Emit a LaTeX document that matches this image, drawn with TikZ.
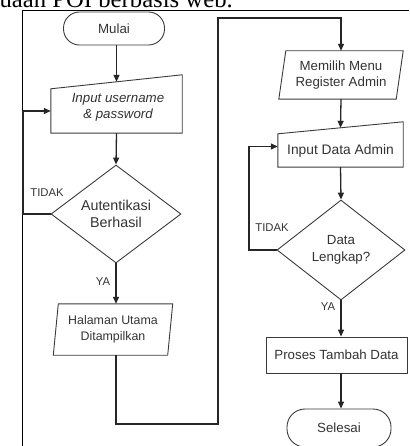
\documentclass[tikz,border=0pt]{standalone}
\usepackage{fontspec}
\setmainfont{Liberation Sans}
\newfontfamily\captionserif{Liberation Serif}
\usetikzlibrary{arrows.meta,shapes.geometric,calc}
\definecolor{ln}{HTML}{3A3A3A}
\definecolor{tx}{HTML}{333333}
\tikzset{
  outl/.style={draw=ln, line width=0.9pt},
  txt/.style={text=tx, font=\fontsize{13.3}{16.5}\selectfont, align=center, inner sep=0pt},
  term/.style={txt, draw=ln, line width=0.9pt, rounded corners=16pt, minimum width=101pt, minimum height=33pt},
  dia/.style={txt, diamond, draw=ln, line width=0.9pt, aspect=1.3},
  procbox/.style={txt, draw=ln, line width=0.9pt},
  conn/.style={draw=black!85, line width=1.3pt},
  arr/.style={conn, -{Triangle[length=7pt,width=6pt]}},
  lbl/.style={text=tx, font=\fontsize{11.3}{13}\selectfont, inner sep=0pt},
}
\begin{document}
\begin{tikzpicture}[x=1pt,y=-1pt]
\useasboundingbox (0,0) rectangle (409,446);
% caption fragment and frame
\node[font=\captionserif\fontsize{24.7}{28}\selectfont, anchor=base east, inner sep=0pt] (cap) at (233,8) {uaan POI berbasis web.};
\coordinate (fa) at (22,446);
\coordinate (fb) at (22,10);
\coordinate (fc) at (409,10);
\draw[line width=0.9pt, black] (fa) -- (fb) -- (fc);

% left column
\node[term] (mulai) at (114,28.5) {Mulai};
\node[txt, minimum width=131pt, minimum height=44pt] (in1) at (116.5,111) {};
\node[txt] (in1t) at (118,107.5) {\itshape Input username\\\itshape \& password};
\draw[outl] (in1.south west) -- (in1.south east) -- ([yshift=14pt]in1.north east) -- (in1.north west) -- cycle;
\node[dia, minimum width=130pt, minimum height=98pt] (d1) at (116,214) {\fontsize{14.3}{17}\selectfont Autentikasi\\\fontsize{14.3}{17}\selectfont Berhasil};
\node[txt, minimum width=114pt, minimum height=51pt, font=\fontsize{12.4}{16}\selectfont] (p1) at (113,329.5) {Halaman Utama\\Ditampilkan};
\draw[outl] ([xshift=2.5pt]p1.north west) -- ([xshift=2.5pt]p1.north east) -- ([xshift=-2.5pt]p1.south east) -- ([xshift=-2.5pt]p1.south west) -- cycle;

% right column
\node[txt, minimum width=117pt, minimum height=48pt] (p2) at (341,75) {Memilih Menu\\Register Admin};
\draw[outl] ([xshift=3.5pt]p2.north west) -- ([xshift=3.5pt]p2.north east) -- ([xshift=-3.5pt]p2.south east) -- ([xshift=-3.5pt]p2.south west) -- cycle;
\node[txt, minimum width=125pt, minimum height=33pt, font=\fontsize{13.8}{16.5}\selectfont] (in2) at (340.5,150.5) {Input Data Admin};
\draw[outl] (in2.south west) -- (in2.south east) -- ([yshift=12pt]in2.north east) -- (in2.north west) -- cycle;
\node[dia, minimum width=128pt, minimum height=100pt] (d2) at (341,250) {Data\\Lengkap?};
\node[procbox, minimum width=141pt, minimum height=36pt] (proc) at (336.5,355) {Proses Tambah Data};
\node[term, minimum width=104pt, minimum height=38pt, rounded corners=18pt] (sel) at (339,428) {Selesai};

% connectors
\draw[arr] (mulai.south -| in1.north) -- ([yshift=7pt]in1.north);
\draw[arr] (in1.south) -- (d1.north);
\coordinate (lx1) at (23,0);
\draw[arr] (d1.west) -- (d1.west -| lx1) |- (in1.west);
\node[lbl] (t1) at (47,193) {TIDAK};
\draw[arr] (d1.south) -- (d1.south |- p1.north);
\node[lbl] (y1) at (103,282) {YA};
\coordinate (c1) at (218,424);
\coordinate (c2) at (218,18);
\draw[arr] (p1.south -| d1.south) |- (c1) -- (c2) -| (p2.north);
\draw[arr] (p2.south) -- ([yshift=6pt]in2.north);
\draw[arr] (in2.south) -- (d2.north);
\coordinate (lx2) at (249,0);
\draw[arr] (d2.west) -- (d2.west -| lx2) |- ([yshift=4pt]in2.west);
\node[lbl] (t2) at (272,228) {TIDAK};
\draw[arr] (d2.south) -- (d2.south |- proc.north);
\node[lbl] (y2) at (328,307) {YA};
\draw[arr] (proc.south -| d2.south) -- (sel.north -| d2.south);
\end{tikzpicture}
\end{document}
